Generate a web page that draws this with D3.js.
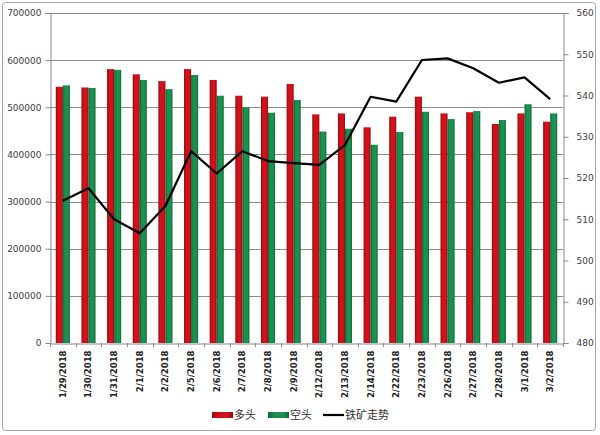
<!DOCTYPE html>
<html><head><meta charset="utf-8">
<script src="https://cdn.jsdelivr.net/npm/d3@7"></script>
<style>
html,body{margin:0;padding:0;background:#fff;}
svg{display:block;}
</style></head>
<body>
<svg id="c" width="600" height="435"></svg>
<script>
const categories = ["1/29/2018","1/30/2018","1/31/2018","2/1/2018","2/2/2018","2/5/2018","2/6/2018","2/7/2018","2/8/2018","2/9/2018","2/12/2018","2/13/2018","2/14/2018","2/22/2018","2/23/2018","2/26/2018","2/27/2018","2/28/2018","3/1/2018","3/2/2018"];
const longValues  = [543500,542000,581000,570000,555500,581000,558000,524500,522500,549500,485000,487000,457500,480000,522500,487000,489500,464500,487000,469500];
const shortValues = [546500,541000,579500,558000,538500,568500,524500,500000,488500,515500,448500,454500,420500,447500,490500,475000,492000,473000,506500,487000];
const ironTrend   = [514.5,517.5,510.0,506.6,513.2,526.5,521.1,526.5,524.1,523.6,523.2,528.0,539.7,538.5,548.6,549.0,546.6,543.1,544.4,539.1];
const leftTicks = [0,100000,200000,300000,400000,500000,600000,700000];
const rightTicks = [480,490,500,510,520,530,540,550,560];
const seriesNames = ["多头","空头","铁矿走势"];

const svg = d3.select("#c");
const m = {l:50, r:563, t:13, b:343};

// frame
svg.append("rect").attr("x",2.5).attr("y",2.5).attr("width",593).attr("height",428)
  .attr("rx",3).attr("fill","#fff").attr("stroke","#a6a6a6").attr("stroke-width",1);

const defs = svg.append("defs");
function grad(id, edge, mid){
  const g = defs.append("linearGradient").attr("id",id).attr("x1","0").attr("x2","1").attr("y1","0").attr("y2","0");
  g.append("stop").attr("offset","0").attr("stop-color",edge);
  g.append("stop").attr("offset","0.3").attr("stop-color",mid);
  g.append("stop").attr("offset","0.75").attr("stop-color",mid);
  g.append("stop").attr("offset","1").attr("stop-color",edge);
}
grad("gRed","#9a0508","#cf121b");
grad("gGreen","#0d6535","#1a9150");

const x = d3.scaleBand().domain(categories).range([m.l, m.r]).paddingInner(0).paddingOuter(0);
const x1 = d3.scaleBand().domain(["long","short"]).range([0, x.bandwidth()]).paddingInner(0).paddingOuter(0.82);
const y = d3.scaleLinear().domain([0,700000]).range([m.b, m.t]);
const y2 = d3.scaleLinear().domain([480,560]).range([m.b, m.t]);

// gridlines
svg.append("g").selectAll("line").data(leftTicks.slice(1)).join("line")
  .attr("x1",m.l).attr("x2",m.r).attr("y1",d=>Math.round(y(d))+0.5).attr("y2",d=>Math.round(y(d))+0.5)
  .attr("stroke","#8c8c8c").attr("stroke-width",1);

// bars
const bw = x1.bandwidth();
svg.append("g").selectAll("rect").data(categories).join("rect")
  .attr("x",d=>x(d)+x1("long")).attr("width",bw)
  .attr("y",(d,i)=>y(longValues[i])).attr("height",(d,i)=>y(0)-y(longValues[i]))
  .attr("fill","url(#gRed)");
svg.append("g").selectAll("rect").data(categories).join("rect")
  .attr("x",d=>x(d)+x1("short")).attr("width",bw)
  .attr("y",(d,i)=>y(shortValues[i])).attr("height",(d,i)=>y(0)-y(shortValues[i]))
  .attr("fill","url(#gGreen)");

// axes
const axL = d3.axisLeft(y).tickValues(leftTicks).tickSize(5).tickPadding(4).tickFormat(d3.format("d"));
const gL = svg.append("g").attr("transform",`translate(${m.l+0.5},0)`).call(axL);
const axR = d3.axisRight(y2).tickValues(rightTicks).tickSize(5).tickPadding(8).tickFormat(d3.format("d"));
const gR = svg.append("g").attr("transform",`translate(${m.r+0.5},0)`).call(axR);
const axB = d3.axisBottom(x).tickSize(0).tickPadding(0);
const gB = svg.append("g").attr("transform",`translate(0,${m.b+0.5})`).call(axB);
// category boundary ticks
svg.append("g").selectAll("line").data(d3.range(categories.length+1)).join("line")
  .attr("x1",i=>Math.round(m.l+i*x.step())+0.5).attr("x2",i=>Math.round(m.l+i*x.step())+0.5)
  .attr("y1",m.b).attr("y2",m.b+4).attr("stroke","#888");

[gL,gR,gB].forEach(g=>{
  g.select(".domain").attr("stroke","#888");
  g.selectAll(".tick line").attr("stroke","#888");
});
gL.selectAll("text").attr("font-family","DejaVu Sans").attr("font-size",9).attr("fill","#404040");
gR.selectAll("text").attr("font-family","DejaVu Sans").attr("font-size",9).attr("fill","#404040");
gB.selectAll("text")
  .attr("font-family","DejaVu Sans").attr("font-size",8.5).attr("font-weight","bold").attr("fill","#222")
  .attr("transform","rotate(-90)").attr("text-anchor","end").attr("dy","0.35em").attr("x",-7).attr("y",0);

// line
const line = d3.line().x((d,i)=>x(categories[i])+x.bandwidth()/2).y(d=>y2(d));
svg.append("path").datum(ironTrend).attr("d",line).attr("fill","none")
  .attr("stroke","#000").attr("stroke-width",2.2).attr("stroke-linejoin","round");

// legend
const lg = svg.append("g").attr("font-family","Noto Sans CJK SC").attr("font-size",11).attr("fill","#333");
lg.append("rect").attr("x",212).attr("y",412).attr("width",21).attr("height",6).attr("fill","url(#gRed)");
lg.append("text").attr("x",234).attr("y",419).text(seriesNames[0]);
lg.append("rect").attr("x",268).attr("y",412).attr("width",21).attr("height",6).attr("fill","url(#gGreen)");
lg.append("text").attr("x",290).attr("y",419).text(seriesNames[1]);
lg.append("line").attr("x1",323).attr("x2",344).attr("y1",415).attr("y2",415).attr("stroke","#000").attr("stroke-width",2.2);
lg.append("text").attr("x",345).attr("y",419).text(seriesNames[2]);
</script>
</body></html>
